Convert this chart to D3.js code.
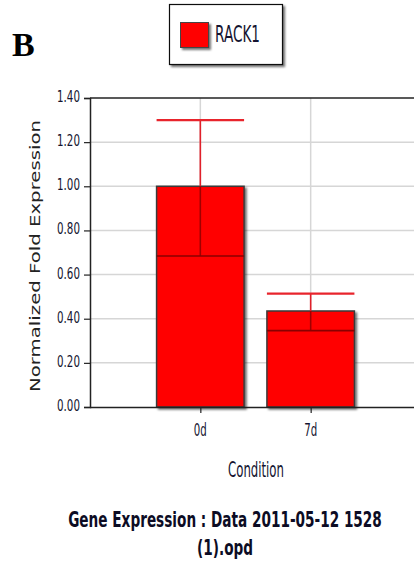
<!DOCTYPE html>
<html>
<head>
<meta charset="utf-8">
<script src="https://cdn.jsdelivr.net/npm/d3@7/dist/d3.min.js"></script>
<style>
  html, body { margin: 0; padding: 0; background: #fff; }
  svg { display: block; }
</style>
</head>
<body>
<svg id="chart" width="414" height="570"></svg>
<script>
// Relative expression of RACK1 per condition
const conditions = ["0d", "7d"];
const expression = [1.00, 0.435];
const errorLow = [0.684, 0.346];
const errorHigh = [1.30, 0.514];
const yTicks = [0, 0.2, 0.4, 0.6, 0.8, 1.0, 1.2, 1.4];
const seriesName = "RACK1";

const svg = d3.select("#chart");
const plot = { left: 90, right: 421, top: 98, bottom: 407 };
const SANS = "DejaVu Sans, Verdana, sans-serif";

// Draws a text squeezed horizontally to a given width (condensed look).
function narrowText(parent, str, x, y, width, opts) {
  const t = parent.append("text")
    .attr("font-family", SANS)
    .attr("font-size", opts.size)
    .attr("font-weight", opts.weight || "normal")
    .attr("fill", opts.fill || "#1c1c3a")
    .attr("text-anchor", opts.anchor || "start")
    .attr("x", 0).attr("y", 0)
    .text(str);
  const w = t.node().getComputedTextLength();
  const s = width / w;
  t.attr("transform", `translate(${x},${y}) scale(${s},1)`);
  return t;
}

const defs = svg.append("defs");
const shadow = defs.append("filter").attr("id", "shadow")
  .attr("x", "-10%").attr("y", "-10%").attr("width", "130%").attr("height", "130%");
shadow.append("feDropShadow").attr("dx", 2).attr("dy", 2)
  .attr("stdDeviation", 1).attr("flood-color", "#000").attr("flood-opacity", 0.55);

const x = d3.scalePoint().domain(conditions).range([plot.left, plot.right]).padding(1);
const y = d3.scaleLinear().domain([0, 1.4]).range([plot.bottom, plot.top]);
const barW = 87.5;

// Panel letter
svg.append("text").attr("x", 12).attr("y", 56)
  .attr("font-family", "Liberation Serif, Times New Roman, serif")
  .attr("font-weight", "bold").attr("font-size", 34).attr("fill", "#000").text("B");

// Legend
const lg = svg.append("g");
lg.append("rect").attr("x", 169.5).attr("y", 4.5).attr("width", 113).attr("height", 60)
  .attr("fill", "#fff").attr("stroke", "#111").attr("stroke-width", 1.2).attr("filter", "url(#shadow)");
lg.append("rect").attr("x", 180.5).attr("y", 22.5).attr("width", 28).attr("height", 25)
  .attr("fill", "#ff0000").attr("stroke", "#444").attr("stroke-width", 1).attr("filter", "url(#shadow)");
narrowText(lg, seriesName, 215, 42, 45, { size: 23, fill: "#141430" });

// Grid
const grid = svg.append("g");
grid.selectAll("line.h").data(yTicks.slice(1, -1)).join("line")
  .attr("x1", plot.left).attr("x2", 414).attr("y1", d => y(d)).attr("y2", d => y(d))
  .attr("stroke", "#d6d6d6").attr("stroke-width", 1.5);
grid.selectAll("line.v").data(conditions).join("line")
  .attr("x1", d => x(d)).attr("x2", d => x(d)).attr("y1", plot.top).attr("y2", plot.bottom)
  .attr("stroke", "#d6d6d6").attr("stroke-width", 1.5);
svg.append("line").attr("x1", plot.left).attr("x2", 414)
  .attr("y1", y(1.4)).attr("y2", y(1.4)).attr("stroke", "#222").attr("stroke-width", 1.5);

// Bars
const bars = svg.append("g");
bars.selectAll("rect").data(conditions).join("rect")
  .attr("x", d => x(d) - barW / 2).attr("width", barW)
  .attr("y", (d, i) => y(expression[i]))
  .attr("height", (d, i) => y(0) - y(expression[i]))
  .attr("fill", "#ff0000").attr("stroke", "#3a3a3a").attr("stroke-width", 1.5)
  .attr("filter", "url(#shadow)");

// Error bars
const err = svg.append("g");
conditions.forEach((c, i) => {
  const cx = x(c);
  err.append("line").attr("x1", cx).attr("x2", cx)
    .attr("y1", y(errorHigh[i])).attr("y2", y(expression[i]))
    .attr("stroke", "#e0202a").attr("stroke-width", 1.6);
  err.append("line").attr("x1", cx).attr("x2", cx)
    .attr("y1", y(expression[i])).attr("y2", y(errorLow[i]))
    .attr("stroke", "#a00000").attr("stroke-width", 1.6);
  err.append("line").attr("x1", cx - barW / 2).attr("x2", cx + barW / 2)
    .attr("y1", y(errorHigh[i])).attr("y2", y(errorHigh[i]))
    .attr("stroke", "#e8242c").attr("stroke-width", 2.2);
  err.append("line").attr("x1", cx - barW / 2).attr("x2", cx + barW / 2)
    .attr("y1", y(errorLow[i])).attr("y2", y(errorLow[i]))
    .attr("stroke", "#8a0000").attr("stroke-width", 1.6);
});

// Axes (lines and ticks from d3, labels drawn condensed)
const yAxis = svg.append("g").attr("transform", `translate(${plot.left},0)`)
  .call(d3.axisLeft(y).tickValues(yTicks).tickFormat("").tickSize(6));
yAxis.select(".domain").attr("stroke", "#222").attr("stroke-width", 1.5);
yAxis.selectAll(".tick line").attr("stroke", "#222").attr("stroke-width", 1.2);
const fmt = d3.format(".2f");
const yLabels = svg.append("g");
yTicks.forEach(v => narrowText(yLabels, fmt(v), plot.left - 10, y(v) + 4, 23, { size: 16, anchor: "end", fill: "#141430" }));

const xAxis = svg.append("g").attr("transform", `translate(0,${plot.bottom})`)
  .call(d3.axisBottom(x).tickSize(6).tickFormat("").tickSizeOuter(0));
xAxis.select(".domain").attr("d", `M${plot.left},0.5H414`).attr("stroke", "#222").attr("stroke-width", 1.5);
xAxis.selectAll(".tick line").attr("stroke", "#222").attr("stroke-width", 1.2);
const xLabels = svg.append("g");
conditions.forEach(c => narrowText(xLabels, c, x(c), 436, 13, { size: 18, anchor: "middle", fill: "#141430" }));

// Axis titles
svg.append("text").attr("transform", "translate(40,256) rotate(-90)")
  .attr("text-anchor", "middle").attr("font-family", SANS)
  .attr("font-size", 14).attr("fill", "#222")
  .attr("textLength", 272).attr("lengthAdjust", "spacingAndGlyphs")
  .text("Normalized Fold Expression");
narrowText(svg, "Condition", 256, 477, 56, { size: 21, anchor: "middle", fill: "#141430" });

// Chart title
narrowText(svg, "Gene Expression : Data 2011-05-12 1528", 225, 527, 314,
  { size: 21, weight: "bold", fill: "#0c0c24", anchor: "middle" });
narrowText(svg, "(1).opd", 225, 555, 56,
  { size: 21, weight: "bold", fill: "#0c0c24", anchor: "middle" });
</script>
</body>
</html>
